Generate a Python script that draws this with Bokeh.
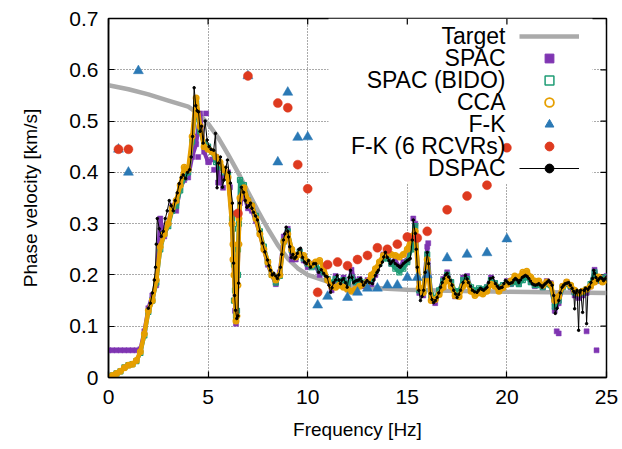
import numpy as np
from bokeh.plotting import figure
from bokeh.models import (Legend, LegendItem, Label, BoxAnnotation, FixedTicker, Range1d)
from bokeh.embed import file_html
from bokeh.resources import INLINE

# ---------------- data ----------------
x_ticks = [0, 5, 10, 15, 20, 25]
x_tick_labels = ["0", "5", "10", "15", "20", "25"]
y_ticks = [0, 0.1, 0.2, 0.3, 0.4, 0.5, 0.6, 0.7]
y_tick_labels = ["0", "0.1", "0.2", "0.3", "0.4", "0.5", "0.6", "0.7"]

target_f = [0, 1, 2, 3, 4, 4.5, 5, 5.5, 6, 6.5, 7, 7.5, 8, 8.5, 9, 9.5, 10,
            11, 12, 13, 14, 15, 17, 20, 25]
target_v = [0.570, 0.562, 0.552, 0.540, 0.528, 0.515, 0.495, 0.468, 0.435, 0.400,
            0.362, 0.325, 0.290, 0.258, 0.232, 0.213, 0.200, 0.187, 0.180, 0.176,
            0.173, 0.171, 0.169, 0.167, 0.165]

# 0.2 Hz grid for SPAC / SPAC(BIDO) / CCA
grid_f = [round(0.2 * i, 1) for i in range(126)]

spac_v = [0.053, 0.053, 0.053, 0.053, 0.053, 0.053, 0.053, 0.053, 0.055, 0.090,
          0.135, 0.160, 0.180, 0.310, 0.275, 0.300, 0.335, 0.325, 0.370, 0.385,
          0.390, 0.430, 0.455, 0.515, 0.440, 0.420, 0.425, 0.430, 0.380, 0.390,
          0.400, 0.300, 0.105, 0.340, 0.355, 0.330, 0.325, 0.305, 0.280, 0.250,
          0.220, 0.200, 0.182, 0.205, 0.275, 0.290, 0.230, 0.230, 0.245, 0.228,
          0.215, 0.222, 0.218, 0.200, 0.205, 0.190, 0.170, 0.198, 0.185, 0.195,
          0.172, 0.210, 0.185, 0.192, 0.178, 0.190, 0.182, 0.200, 0.222, 0.240,
          0.238, 0.222, 0.228, 0.215, 0.225, 0.228, 0.255, 0.300, 0.165, 0.160,
          0.255, 0.158, 0.145, 0.168, 0.192, 0.205, 0.184, 0.158, 0.160, 0.195,
          0.198, 0.172, 0.164, 0.170, 0.168, 0.176, 0.195, 0.184, 0.172, 0.178,
          0.188, 0.182, 0.194, 0.184, 0.198, 0.200, 0.186, 0.178, 0.182, 0.176,
          0.188, 0.184, 0.130, 0.145, 0.178, 0.186, 0.176, 0.160, 0.155, 0.160,
          0.165, 0.178, 0.210, 0.188, 0.192, 0.198]
spac_extra_f = [4.3, 4.5, 4.9, 5.05, 5.3, 5.5, 5.75, 6.1, 6.2, 6.35, 15.3, 16.05,
                22.5, 22.6, 24.0, 24.5]
spac_extra_v = [0.470, 0.430, 0.515, 0.420, 0.405, 0.380, 0.370, 0.371, 0.320, 0.130,
                0.310, 0.262, 0.090, 0.086, 0.090, 0.053]

bido_v = [0.000, 0.004, 0.008, 0.012, 0.020, 0.024, 0.026, 0.032, 0.048, 0.082,
          0.128, 0.150, 0.185, 0.250, 0.280, 0.295, 0.325, 0.335, 0.365, 0.390,
          0.400, 0.460, 0.535, 0.480, 0.455, 0.450, 0.440, 0.420, 0.410, 0.400,
          0.395, 0.310, 0.120, 0.385, 0.375, 0.345, 0.335, 0.315, 0.285, 0.255,
          0.225, 0.200, 0.185, 0.198, 0.265, 0.285, 0.248, 0.235, 0.245, 0.232,
          0.222, 0.215, 0.220, 0.210, 0.205, 0.192, 0.185, 0.192, 0.188, 0.190,
          0.182, 0.195, 0.186, 0.188, 0.185, 0.186, 0.192, 0.208, 0.222, 0.232,
          0.232, 0.222, 0.212, 0.205, 0.212, 0.225, 0.250, 0.295, 0.170, 0.168,
          0.240, 0.160, 0.155, 0.170, 0.188, 0.200, 0.186, 0.168, 0.168, 0.190,
          0.192, 0.176, 0.170, 0.174, 0.172, 0.176, 0.190, 0.184, 0.176, 0.180,
          0.185, 0.183, 0.186, 0.182, 0.190, 0.195, 0.186, 0.180, 0.180, 0.176,
          0.182, 0.180, 0.138, 0.150, 0.176, 0.182, 0.178, 0.166, 0.164, 0.166,
          0.172, 0.182, 0.205, 0.190, 0.192, 0.196]
bido_extra_f = [6.25, 6.3, 6.35, 6.45, 6.5, 6.55, 6.3, 6.5]
bido_extra_v = [0.290, 0.220, 0.170, 0.130, 0.200, 0.300, 0.150, 0.250]

cca_v = [0.000, 0.004, 0.008, 0.012, 0.019, 0.024, 0.026, 0.033, 0.050, 0.085,
         0.130, 0.150, 0.190, 0.255, 0.280, 0.300, 0.330, 0.345, 0.375, 0.410,
         0.405, 0.470, 0.545, 0.490, 0.450, 0.445, 0.440, 0.430, 0.420, 0.405,
         0.390, 0.300, 0.110, 0.350, 0.370, 0.345, 0.335, 0.310, 0.280, 0.250,
         0.225, 0.200, 0.190, 0.200, 0.265, 0.280, 0.250, 0.235, 0.240, 0.238,
         0.225, 0.220, 0.225, 0.228, 0.215, 0.190, 0.178, 0.176, 0.180, 0.176,
         0.172, 0.168, 0.172, 0.178, 0.182, 0.186, 0.200, 0.212, 0.225, 0.238,
         0.245, 0.240, 0.238, 0.235, 0.240, 0.250, 0.275, 0.285, 0.175, 0.165,
         0.230, 0.150, 0.152, 0.162, 0.176, 0.192, 0.178, 0.160, 0.158, 0.178,
         0.185, 0.168, 0.160, 0.165, 0.163, 0.168, 0.182, 0.178, 0.168, 0.175,
         0.182, 0.188, 0.198, 0.196, 0.205, 0.207, 0.196, 0.188, 0.188, 0.180,
         0.186, 0.182, 0.150, 0.158, 0.178, 0.186, 0.180, 0.170, 0.165, 0.168,
         0.172, 0.178, 0.186, 0.196, 0.186, 0.190]
cca_extra_f = [6.25, 6.3, 6.35, 6.45, 6.5, 6.55, 6.25, 6.55]
cca_extra_v = [0.260, 0.200, 0.150, 0.120, 0.180, 0.260, 0.230, 0.310]

fk_f = [0.5, 1.0, 1.5, 7.0, 8.5, 9.0, 9.5, 10.0, 10.5, 11.0, 12.0, 12.5, 13.0,
        13.5, 14.0, 14.5, 15.0, 15.5, 16.0, 17.0, 18.0, 19.0, 20.0]
fk_v = [0.445, 0.400, 0.598, 0.588, 0.420, 0.556, 0.468, 0.469, 0.141, 0.158,
        0.156, 0.166, 0.174, 0.174, 0.180, 0.180, 0.195, 0.195, 0.200, 0.233,
        0.240, 0.243, 0.270]

fk6_f = [0.5, 1.0, 6.5, 7.0, 8.5, 9.0, 9.5, 10.0, 10.5, 11.0, 11.5, 12.0, 12.5,
         13.0, 13.5, 14.0, 14.5, 15.0, 15.5, 16.0, 17.0, 18.0, 19.0, 20.0]
fk6_v = [0.445, 0.445, 0.320, 0.588, 0.535, 0.526, 0.415, 0.368, 0.166, 0.220,
         0.225, 0.218, 0.230, 0.238, 0.253, 0.250, 0.260, 0.274, 0.272, 0.285,
         0.327, 0.354, 0.375, 0.448]

dspac_f = [2.0, 2.1, 2.2, 2.3, 2.36, 2.4, 2.45, 2.55, 2.65, 2.75, 2.85, 2.95, 3.05,
           3.15, 3.25, 3.35, 3.45, 3.55, 3.65, 3.75, 3.87, 3.97, 4.07, 4.15, 4.22,
           4.3, 4.38, 4.45, 4.52, 4.6, 4.67, 4.75, 4.85, 4.95, 5.05, 5.15, 5.28,
           5.37, 5.45, 5.52, 5.62, 5.72, 5.8, 5.9, 5.97, 6.05, 6.12, 6.22, 6.28,
           6.33, 6.38, 6.44, 6.5, 6.53, 6.58, 6.67, 6.78, 6.87, 6.95, 7.05, 7.13,
           7.2, 7.28, 7.38, 7.48, 7.6, 7.73, 7.85, 7.98, 8.05, 8.13, 8.22, 8.3,
           8.4, 8.48, 8.55, 8.63, 8.7, 8.78, 8.85, 8.92, 9.0, 9.04, 9.1, 9.18,
           9.26, 9.34, 9.41, 9.48, 9.56, 9.64, 9.74, 9.84, 9.94, 10.04, 10.14,
           10.3, 10.4, 10.55, 10.68, 10.8, 10.9, 10.98, 11.07, 11.15, 11.22, 11.3,
           11.4, 11.48, 11.57, 11.65, 11.72, 11.8, 11.9, 11.98, 12.07, 12.15,
           12.22, 12.3, 12.4, 12.48, 12.57, 12.65, 12.72, 12.8, 12.9, 12.98, 13.1,
           13.25, 13.32, 13.4, 13.48, 13.55, 13.65, 13.75, 13.82, 13.9, 14.0,
           14.08, 14.15, 14.22, 14.3, 14.4, 14.5, 14.58, 14.65, 14.72, 14.8, 14.9,
           15.0, 15.08, 15.15, 15.25, 15.3, 15.4, 15.45, 15.5, 15.58, 15.66,
           15.74, 15.82, 15.9, 16.0, 16.07, 16.16, 16.24, 16.32, 16.41, 16.5,
           16.58, 16.67, 16.75, 16.83, 16.92, 17.0, 17.08, 17.17, 17.25, 17.33,
           17.42, 17.5, 17.58, 17.67, 17.8, 17.92, 18.0, 18.07, 18.17, 18.27,
           18.38, 18.5, 18.58, 18.67, 18.75, 18.83, 18.92, 19.0, 19.08, 19.17,
           19.3, 19.43, 19.52, 19.6, 19.68, 19.76, 19.85, 19.93, 20.02, 20.1,
           20.18, 20.27, 20.35, 20.43, 20.52, 20.6, 20.68, 20.77, 20.85, 20.93,
           21.02, 21.1, 21.18, 21.27, 21.35, 21.43, 21.52, 21.6, 21.68, 21.77,
           21.85, 21.93, 22.02, 22.1, 22.18, 22.27, 22.35, 22.43, 22.52, 22.6,
           22.68, 22.77, 22.85, 22.93, 23.02, 23.1, 23.18, 23.27, 23.35, 23.4,
           23.45, 23.52, 23.6, 23.65, 23.7, 23.8, 23.87, 23.95, 24.0, 24.07,
           24.15, 24.22, 24.3, 24.36, 24.4, 24.47, 24.55, 24.62, 24.7, 24.78,
           24.85, 24.92, 25.0]
dspac_v = [0.135, 0.145, 0.165, 0.190, 0.215, 0.260, 0.310, 0.290, 0.275, 0.285,
           0.310, 0.325, 0.345, 0.335, 0.325, 0.345, 0.360, 0.378, 0.390, 0.395,
           0.388, 0.400, 0.405, 0.430, 0.470, 0.565, 0.530, 0.520, 0.518, 0.480,
           0.490, 0.457, 0.500, 0.463, 0.450, 0.445, 0.443, 0.476, 0.370, 0.418,
           0.430, 0.371, 0.385, 0.410, 0.424, 0.400, 0.379, 0.340, 0.223, 0.160,
           0.131, 0.115, 0.120, 0.184, 0.340, 0.371, 0.361, 0.345, 0.332, 0.335,
           0.340, 0.330, 0.322, 0.315, 0.307, 0.285, 0.262, 0.245, 0.229, 0.218,
           0.209, 0.200, 0.203, 0.198, 0.193, 0.200, 0.215, 0.240, 0.268, 0.280,
           0.293, 0.285, 0.274, 0.255, 0.234, 0.240, 0.232, 0.235, 0.242, 0.250,
           0.252, 0.234, 0.225, 0.222, 0.228, 0.215, 0.222, 0.222, 0.205, 0.210,
           0.203, 0.198, 0.196, 0.180, 0.166, 0.175, 0.185, 0.190, 0.199, 0.190,
           0.183, 0.190, 0.193, 0.185, 0.176, 0.195, 0.209, 0.195, 0.185, 0.188,
           0.189, 0.190, 0.193, 0.187, 0.180, 0.185, 0.189, 0.185, 0.183, 0.190,
           0.199, 0.205, 0.209, 0.218, 0.225, 0.235, 0.244, 0.234, 0.228, 0.222,
           0.225, 0.228, 0.222, 0.219, 0.217, 0.215, 0.218, 0.222, 0.225, 0.228,
           0.230, 0.232, 0.268, 0.307, 0.281, 0.250, 0.215, 0.170, 0.150, 0.158,
           0.170, 0.205, 0.244, 0.222, 0.164, 0.152, 0.146, 0.150, 0.156, 0.165,
           0.176, 0.185, 0.193, 0.200, 0.203, 0.196, 0.189, 0.180, 0.170, 0.163,
           0.156, 0.162, 0.170, 0.185, 0.199, 0.192, 0.185, 0.178, 0.170, 0.167,
           0.166, 0.170, 0.174, 0.172, 0.170, 0.173, 0.176, 0.185, 0.193, 0.195,
           0.183, 0.178, 0.174, 0.175, 0.176, 0.183, 0.189, 0.186, 0.183, 0.184,
           0.185, 0.190, 0.193, 0.190, 0.185, 0.190, 0.195, 0.197, 0.199, 0.197,
           0.193, 0.188, 0.183, 0.181, 0.180, 0.181, 0.183, 0.180, 0.176, 0.180,
           0.183, 0.186, 0.189, 0.185, 0.180, 0.160, 0.125, 0.135, 0.150, 0.165,
           0.176, 0.180, 0.183, 0.184, 0.185, 0.180, 0.174, 0.168, 0.134, 0.165,
           0.170, 0.092, 0.166, 0.170, 0.127, 0.170, 0.174, 0.105, 0.172, 0.176,
           0.185, 0.193, 0.209, 0.203, 0.195, 0.189, 0.192, 0.195, 0.193, 0.189,
           0.192, 0.195]

legend_names = ["Target", "SPAC", "SPAC (BIDO)", "CCA", "F-K", "F-K (6 RCVRs)", "DSPAC"]

# ---------------- style / layout ----------------
W, H = 622, 449
FL, FR, FT, FB = 108, 606, 18, 377       # frame edges in canvas px
FONT = "Liberation Sans"
PURPLE = "#7f35b2"
GREEN = "#1f9d76"
ORANGE = "#e69f00"
BLUE = "#2b79b5"
RED = "#de3a1f"
GRAY = "#aaaaaa"
TICK_PX = 6


def xdata(px):
    return 25.0 * (px - FL) / (FR - FL)


def ydata(py):
    return 0.7 * (FB - py) / (FB - FT)


p = figure(width=W, height=H, x_range=Range1d(0, 25), y_range=Range1d(0, 0.7),
           output_backend="svg", toolbar_location=None,
           min_border_left=FL, min_border_right=W - FR,
           min_border_top=FT, min_border_bottom=H - FB)
p.background_fill_color = "white"
p.border_fill_color = "white"
p.outline_line_color = "black"
p.outline_line_width = 1.5

# axes
for ax, ticks, labels in ((p.xaxis[0], x_ticks, x_tick_labels),
                          (p.yaxis[0], y_ticks, y_tick_labels)):
    ax.ticker = FixedTicker(ticks=ticks)
    ax.major_label_overrides = dict(zip(ticks, labels))
    ax.minor_tick_line_color = None
    ax.major_tick_in = TICK_PX
    ax.major_tick_out = 0
    ax.major_tick_line_width = 1.2
    ax.axis_line_width = 1.5
    ax.major_label_text_font = FONT
    ax.major_label_text_font_size = "21px"
    ax.major_label_text_color = "black"
    ax.axis_label_text_font = FONT
    ax.axis_label_text_font_size = "19px"
    ax.axis_label_text_font_style = "normal"
    ax.axis_label_text_color = "black"

p.xaxis.axis_label = "Frequency [Hz]"
p.yaxis.axis_label = "Phase velocity [km/s]"
p.xaxis.major_label_standoff = 12
p.xaxis.axis_label_standoff = 12
p.yaxis.major_label_standoff = 10
p.yaxis.axis_label_standoff = 25

p.xgrid.ticker = FixedTicker(ticks=x_ticks)
p.ygrid.ticker = FixedTicker(ticks=y_ticks)
for g in (p.xgrid[0], p.ygrid[0]):
    g.grid_line_color = "#555555"
    g.grid_line_dash = "1 2"
    g.grid_line_width = 1

# white key background (under the data)
key_bg = BoxAnnotation(left=xdata(328), right=xdata(592), top=ydata(FT), bottom=ydata(183),
                       fill_color="white", fill_alpha=1.0, line_color=None,
                       level="underlay")
p.add_layout(key_bg)

# mirrored inward ticks on the top and right borders (gnuplot style)
tick_dx = 25.0 * TICK_PX / (FR - FL)
tick_dy = 0.7 * TICK_PX / (FB - FT)
p.segment(x0=x_ticks, y0=[0.7] * len(x_ticks), x1=x_ticks,
          y1=[0.7 - tick_dy] * len(x_ticks), line_color="black", line_width=1.2)
p.segment(x0=[25.0] * len(y_ticks), y0=y_ticks, x1=[25.0 - tick_dx] * len(y_ticks),
          y1=y_ticks, line_color="black", line_width=1.2)

# ---------------- data glyphs ----------------
r_target = p.line(target_f, target_v, line_color=GRAY, line_width=4.5)

p.line(grid_f, spac_v, line_color=PURPLE, line_width=4, line_join="round")
p.scatter(grid_f + spac_extra_f, spac_v + spac_extra_v, marker="square",
          size=5, fill_color=PURPLE, line_color=PURPLE, line_width=0.5)
p.line(grid_f, bido_v, line_color=GREEN, line_width=4, line_join="round")
p.scatter(grid_f + bido_extra_f, bido_v + bido_extra_v, marker="square",
          size=5, fill_color=None, line_color=GREEN, line_width=1.2)
p.line(grid_f, cca_v, line_color=ORANGE, line_width=4.5, line_join="round")
p.scatter(grid_f + cca_extra_f, cca_v + cca_extra_v, marker="circle",
          size=5.5, fill_color=None, line_color=ORANGE, line_width=1.5)
p.scatter(fk_f, fk_v, marker="triangle", size=10, fill_color=BLUE,
          line_color=BLUE, line_width=0.5)
p.scatter(fk6_f, fk6_v, marker="circle", size=9, fill_color=RED,
          line_color=RED, line_width=0.5)
r_dspac_l = p.line(dspac_f, dspac_v, line_color="black", line_width=1)
r_dspac_p = p.scatter(dspac_f, dspac_v, marker="circle", size=2.5,
                      fill_color="black", line_color="black")

# key symbols: a single empty (NaN) point each, only seen in the key
nan1 = np.array([np.nan])
k_spac = p.scatter(nan1, nan1, marker="square", fill_color=PURPLE, line_color=PURPLE)
k_bido = p.scatter(nan1, nan1, marker="square", fill_color=None,
                   line_color=GREEN, line_width=1.5)
k_cca = p.scatter(nan1, nan1, marker="circle", fill_color=None,
                  line_color=ORANGE, line_width=1.8)
k_fk = p.scatter(nan1, nan1, marker="triangle", fill_color=BLUE, line_color=BLUE)
k_fk6 = p.scatter(nan1, nan1, marker="circle", fill_color=RED, line_color=RED)

# ---------------- key ----------------
renderer_sets = [[r_target], [k_spac], [k_bido], [k_cca], [k_fk], [k_fk6],
                 [r_dspac_l, r_dspac_p]]
ROW_H = 22
KEY_TOP = 24.5
items = [LegendItem(label="", renderers=rs) for rs in renderer_sets]
legend = Legend(items=items, location=(519 - FL, FB - (KEY_TOP + ROW_H * 7)),
                glyph_width=60, glyph_height=ROW_H, label_height=ROW_H,
                label_width=0, label_standoff=0, spacing=0, padding=0, margin=0,
                border_line_color=None, background_fill_alpha=0)
p.add_layout(legend)

for i, name in enumerate(legend_names):
    p.add_layout(Label(x=xdata(505), y=ydata(KEY_TOP + ROW_H * i + ROW_H / 2),
                       text=name, text_align="right", text_baseline="middle",
                       text_font=FONT, text_font_size="23px", text_color="black"))

open("out.html", "w").write(file_html(p, INLINE))
